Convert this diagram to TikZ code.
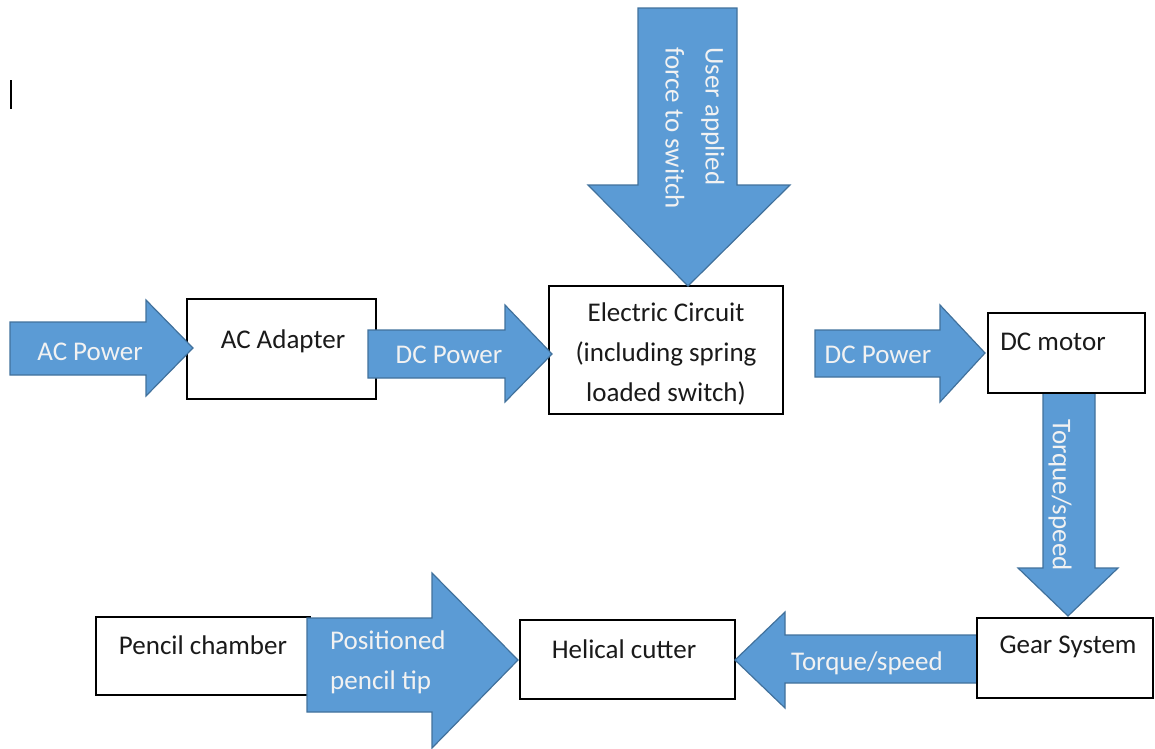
\documentclass[tikz,border=0pt]{standalone}
\usepackage{fontspec}
\setmainfont{Carlito}
\definecolor{arrowfill}{HTML}{5B9BD5}
\definecolor{arrowedge}{HTML}{41719C}
\definecolor{arrowtext}{HTML}{F2F2F2}
\definecolor{boxtext}{HTML}{1A1A1A}
\begin{document}
\begin{tikzpicture}[x=1pt,y=-1pt,
  blk/.style={draw=black,line width=2.2pt,fill=white,inner sep=0pt,outer sep=0pt},
  barrow/.style={fill=arrowfill,draw=arrowedge,line width=1.2pt,line join=miter},
  btext/.style={font=\fontsize{27}{40}\selectfont,text=boxtext,inner sep=0pt},
  atext/.style={font=\fontsize{27}{40}\selectfont,text=arrowtext,inner sep=0pt}]
\useasboundingbox (0,0) rectangle (1155,748);

% cursor mark
\draw[line width=2pt] (11,80) -- (11,109);

% boxes
\node[blk,minimum width=189pt,minimum height=100pt] (adapter) at (281.5,349) {};
\node[blk,minimum width=234pt,minimum height=128pt] (circuit) at (666,350) {};
\node[blk,minimum width=214pt,minimum height=78pt] (chamber) at (203,656) {};
\node[blk,minimum width=215pt,minimum height=79pt] (cutter) at (627.5,659.5) {};

% block arrows
\draw[barrow] (10,322) -- (146,322) -- (146,300) -- (193,348) -- (146,396) -- (146,375) -- (10,375) -- cycle;
\draw[barrow] (368,330) -- (505,330) -- (505,305) -- (552,354) -- (505,402) -- (505,378) -- (368,378) -- cycle;
\draw[barrow] (638,8) -- (737,8) -- (737,185) -- (790,185) -- (688,286) -- (588,185) -- (638,185) -- cycle;
\draw[barrow] (815,330) -- (940,330) -- (940,305) -- (985,353) -- (940,402) -- (940,377) -- (815,377) -- cycle;
\draw[barrow] (1043,393) -- (1095,393) -- (1095,568) -- (1118,568) -- (1068,616) -- (1018,568) -- (1043,568) -- cycle;
\draw[barrow] (978,635) -- (785,635) -- (785,612) -- (735,660) -- (785,708) -- (785,683) -- (978,683) -- cycle;
\draw[barrow] (307,618) -- (432,618) -- (432,573) -- (518,660) -- (432,748) -- (432,712) -- (307,712) -- cycle;

\node[blk,minimum width=157pt,minimum height=80pt] (motor) at (1066.5,353) {};
\node[blk,minimum width=176pt,minimum height=80pt] (gear) at (1065,658) {};

% box labels
\node[btext] (adapterlabel) at (283,341) {AC Adapter};
\node[btext,align=center] (circuitlabel) at (666,354) {Electric Circuit\\(including spring\\loaded switch)};
\node[btext] (motorlabel) at (1053,342) {DC motor};
\node[btext] (gearlabel) at (1068,647) {Gear System};
\node[btext] (cutterlabel) at (624,649) {Helical cutter};
\node[btext] (chamberlabel) at (203,645) {Pencil chamber};

% arrow labels
\node[atext] (acpower) at (90,352) {AC Power};
\node[atext] (dcpower1) at (449,355) {DC Power};
\node[atext] (dcpower2) at (878,355) {DC Power};
\node[atext,rotate=-90,align=left] (userforce) at (695,128) {User applied\\force to switch};
\node[atext,rotate=-90] (torquev) at (1060,495) {Torque/speed};
\node[atext] (torqueh) at (867,663) {Torque/speed};
\node[atext,align=left,anchor=west] (tip) at (330,662) {Positioned\\pencil tip};
\end{tikzpicture}
\end{document}
